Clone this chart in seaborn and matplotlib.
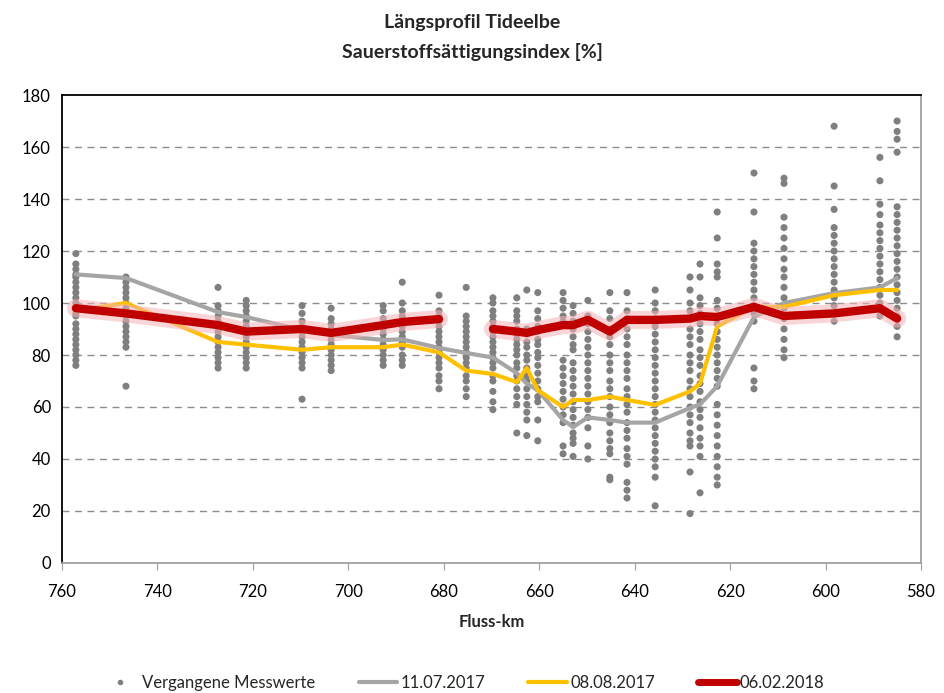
import matplotlib
matplotlib.use('Agg')
import matplotlib.pyplot as plt
import matplotlib.patheffects as pe
from matplotlib.lines import Line2D
import seaborn as sns
import pandas as pd
import numpy as np

# station positions (Fluss-km)
stations = [757.1, 746.6, 727.3, 721.4, 709.7, 703.6, 692.7, 688.7, 681.0, 675.3,
            669.7, 664.7, 662.6, 660.3, 655.0, 652.9, 649.8, 645.2, 641.6, 635.7,
            628.4, 626.3, 622.7, 615.0, 608.7, 598.2, 588.6, 585.0]

# past measurements per station
past_values = [
    [119, 115, 113, 111, 110, 108, 106, 104, 102, 100, 98, 96, 95, 92, 90, 88, 86, 84, 82, 80, 78, 76],
    [110, 108, 106, 104, 102, 100, 98, 96, 95, 93, 91, 89, 87, 85, 83, 68],
    [106, 99, 97, 95, 93, 91, 89, 87, 85, 83, 81, 79, 77, 75],
    [101, 99, 97, 95, 93, 91, 89, 87, 85, 83, 81, 79, 77, 75],
    [99, 96, 93, 91, 89, 87, 85, 83, 81, 79, 77, 75, 63],
    [98, 94, 92, 90, 88, 86, 84, 82, 80, 78, 76, 74],
    [99, 97, 94, 92, 90, 88, 86, 84, 82, 80, 78, 76],
    [108, 100, 97, 95, 93, 91, 89, 87, 85, 83, 80, 78, 76],
    [103, 97, 95, 93, 91, 89, 87, 85, 83, 81, 79, 77, 75, 72, 70, 67],
    [106, 95, 93, 91, 89, 87, 85, 83, 81, 79, 77, 75, 72, 70, 67, 64],
    [102, 100, 97, 95, 93, 91, 89, 87, 85, 83, 81, 79, 77, 75, 72, 70, 66, 62, 59],
    [102, 97, 95, 93, 90, 88, 86, 84, 82, 80, 77, 75, 72, 70, 67, 64, 61, 50],
    [105, 90, 88, 85, 83, 80, 78, 75, 72, 70, 67, 64, 61, 58, 55, 49],
    [104, 97, 94, 91, 89, 86, 84, 81, 79, 76, 73, 70, 67, 64, 62, 55, 47],
    [104, 101, 98, 95, 93, 78, 75, 72, 69, 66, 63, 60, 57, 54, 45, 42],
    [99, 96, 93, 90, 87, 84, 82, 77, 74, 71, 68, 65, 62, 59, 56, 53, 50, 48, 46, 41],
    [101, 95, 92, 89, 86, 83, 80, 77, 74, 71, 68, 65, 62, 59, 56, 52, 45, 40],
    [104, 97, 94, 90, 87, 84, 80, 77, 74, 70, 67, 64, 60, 57, 54, 50, 47, 44, 42, 33, 32],
    [104, 97, 94, 90, 87, 84, 80, 77, 74, 71, 67, 64, 61, 58, 54, 51, 48, 44, 41, 38, 31, 28, 25],
    [105, 100, 97, 94, 91, 88, 85, 82, 79, 76, 73, 70, 67, 64, 61, 58, 55, 52, 49, 46, 43, 40, 37, 33, 22],
    [110, 105, 100, 97, 94, 90, 87, 84, 80, 77, 74, 70, 67, 64, 60, 57, 54, 50, 47, 45, 35, 19],
    [115, 110, 102, 99, 96, 92, 89, 86, 82, 79, 76, 72, 69, 66, 62, 59, 56, 52, 48, 45, 41, 27],
    [135, 125, 115, 112, 110, 101, 98, 95, 92, 89, 86, 83, 80, 77, 74, 71, 68, 61, 57, 53, 49, 45, 41, 37, 33, 30],
    [150, 135, 123, 120, 117, 114, 111, 108, 105, 102, 99, 96, 93, 75, 70, 67],
    [148, 146, 133, 129, 125, 121, 117, 113, 110, 106, 102, 98, 94, 90, 86, 82, 79],
    [168, 145, 136, 129, 126, 123, 120, 117, 114, 111, 108, 105, 102, 99, 96, 93],
    [156, 147, 138, 134, 130, 127, 124, 121, 118, 115, 112, 109, 106, 103, 100, 97, 95],
    [170, 166, 163, 158, 137, 134, 131, 128, 125, 122, 119, 116, 113, 110, 107, 104, 101, 98, 95, 91, 87],
]

jul_2017 = [111, 109.6, 96.5, 94.6, 89.6, 87.7, 85.8, 86, 82.7, 80.8,
            79, 73, 69, 66.5, 55, 52.3, 56, 55, 54, 54,
            59.6, 61, 68, 94.6, 100, 103.8, 106, 109.6]
aug_2017 = [97, 100, 85, 84, 82, 83, 83, 84, 81, 74,
            72.7, 69.6, 75, 66.5, 60, 62.7, 62.7, 64, 62.7, 60.8,
            66, 69, 91, 98.5, 98.5, 103, 105, 105]
feb_2018 = [98, 96, 91.5, 89, 90, 88.5, 91.5, 92.7, 93.8, np.nan,
            90, 89, 88.5, 89.6, 91.5, 91.5, 93.5, 89, 93.5, 93.5,
            94, 95, 94.6, 98.5, 95, 96, 98, 94]

scatter_df = pd.DataFrame(
    [(km, v) for km, vals in zip(stations, past_values) for v in vals],
    columns=['km', 'wert'])
lines_df = pd.DataFrame({'km': stations, 'jul': jul_2017, 'aug': aug_2017, 'feb': feb_2018})

sns.set_style('white')
plt.rcParams['font.family'] = ['Lato', 'DejaVu Sans']

fig = plt.figure(figsize=(9.44, 6.93), dpi=100)
ax = fig.add_axes([0.0657, 0.1876, 0.9099, 0.6753])

sns.scatterplot(data=scatter_df, x='km', y='wert', ax=ax, color='#7f7f7f', s=26,
                edgecolor='none', zorder=2, legend=False)
sns.lineplot(data=lines_df, x='km', y='jul', ax=ax, color='#a5a5a5', lw=3, zorder=3,
             sort=False)
sns.lineplot(data=lines_df, x='km', y='aug', ax=ax, color='#ffc000', lw=3, zorder=4,
             sort=False)
glow = [pe.Stroke(linewidth=13, foreground='#f6b3b8', alpha=0.55), pe.Normal()]
part1 = lines_df.iloc[:9]
part2 = lines_df.iloc[10:]
for part in (part1, part2):
    sns.lineplot(data=part, x='km', y='feb', ax=ax, color='#c00000', lw=6, zorder=5,
                 sort=False, path_effects=glow)

ax.set_xlim(760, 580)
ax.set_ylim(0, 180)
ax.set_xticks(range(760, 579, -20))
ax.set_yticks(range(0, 181, 20))
ax.tick_params(axis='both', labelsize=12, colors='#000000', length=0, pad=8)
ax.tick_params(axis='x', length=5, direction='out', color='#a0a0a0', pad=10, bottom=True)
for y in range(20, 180, 20):
    ax.axhline(y, color='#8c8c8c', lw=1, ls=(0, (5, 4)), zorder=1)
ax.spines['top'].set_color('#000000')
ax.spines['left'].set_color('#000000')
ax.spines['right'].set_color('#a0a0a0')
ax.spines['bottom'].set_color('#a0a0a0')
for s in ax.spines.values():
    s.set_linewidth(1.3)
ax.set_xlabel('Fluss-km', fontsize=12, fontweight='bold', labelpad=10)
ax.set_ylabel('')

fig.text(0.5, 0.968, 'Längsprofil Tideelbe', ha='center', va='center',
         fontsize=14, fontweight='bold')
fig.text(0.5, 0.925, 'Sauerstoffsättigungsindex [%]', ha='center', va='center',
         fontsize=14, fontweight='bold')

handles = [
    Line2D([], [], ls='none', marker='o', ms=3, color='#7f7f7f', label='Vergangene Messwerte'),
    Line2D([], [], color='#a5a5a5', lw=3, label='11.07.2017'),
    Line2D([], [], color='#ffc000', lw=3, label='08.08.2017'),
    Line2D([], [], color='#c00000', lw=5, label='06.02.2018'),
]
fig.legend(handles=handles, loc='center', bbox_to_anchor=(0.49, 0.014), ncol=4,
           frameon=False, fontsize=12, handlelength=2.3, handletextpad=0.2,
           columnspacing=2.6)

fig.savefig('out.png', dpi=100)
